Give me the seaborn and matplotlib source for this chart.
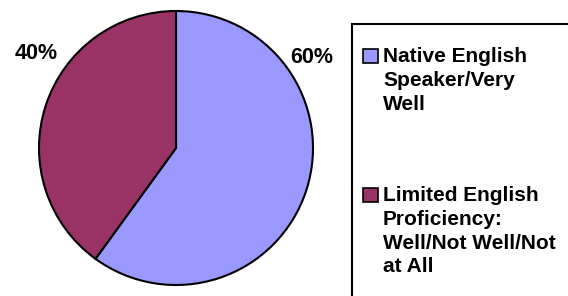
import seaborn as sns
import matplotlib.pyplot as plt
from matplotlib.patches import Rectangle

# data
categories = [
    "Native English\nSpeaker/Very\nWell",
    "Limited English\nProficiency:\nWell/Not Well/Not\nat All",
]
shares = [60, 40]
pct_labels = ["60%", "40%"]
colors = ["#9999FF", "#993366"]

sns.set_theme(style="white")
plt.rcParams["font.family"] = ["Liberation Sans", "DejaVu Sans"]

W, H = 568, 296
fig = plt.figure(figsize=(W / 100, H / 100), dpi=100)
fig.patch.set_facecolor("white")

# pie axes: centre (176, 148), radius 137 px
ax = fig.add_axes([39 / W, 11 / H, 274 / W, 274 / H])
ax.pie(
    shares,
    colors=colors,
    startangle=90,
    counterclock=False,
    radius=1,
    wedgeprops=dict(edgecolor="black", linewidth=1.5),
)
ax.set_xlim(-1.0, 1.0)
ax.set_ylim(-1.0, 1.0)
ax.set_aspect("equal")
ax.axis("off")

# percent labels
label_pos = [(0.99, 0.66), (-1.02, 0.69)]
for txt, (x, y) in zip(pct_labels, label_pos):
    ax.text(x, y, txt, ha="center", va="center", fontsize=15.5,
            fontweight="bold", color="black", clip_on=False)

# legend box (runs off the right and bottom edge)
frame = Rectangle((352 / W, -20 / H), 260 / W, (296 - 24 + 20) / H,
                  transform=fig.transFigure, facecolor="none",
                  edgecolor="black", linewidth=1.5, zorder=3)
fig.add_artist(frame)

entry_top = [49, 188]
for cat, col, top in zip(categories, colors, entry_top):
    sw = Rectangle((363 / W, 1 - (top + 14) / H), 15 / W, 14 / H,
                   transform=fig.transFigure, facecolor=col,
                   edgecolor="black", linewidth=1.2)
    fig.add_artist(sw)
    fig.text(383 / W, 1 - (top - 2) / H, cat, ha="left", va="top",
             fontsize=15, fontweight="bold", color="black",
             linespacing=1.32)

fig.savefig("out.png", dpi=100)
